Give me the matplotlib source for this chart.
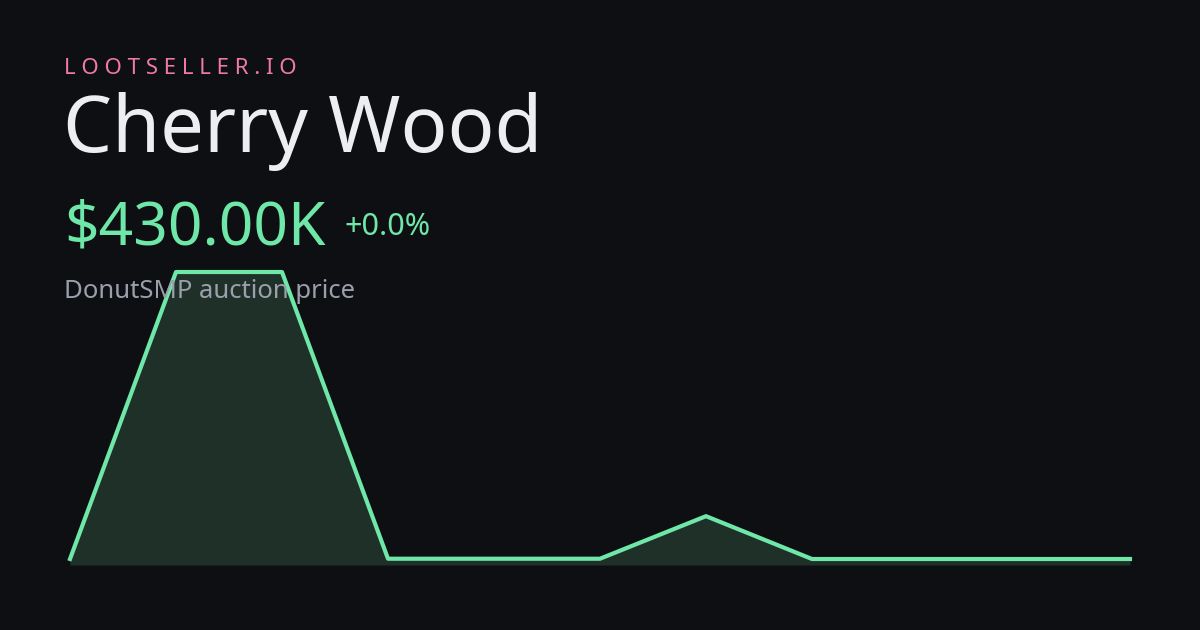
import matplotlib
matplotlib.use("Agg")
import matplotlib.pyplot as plt

values = [0.43, 21.0, 21.0, 0.45, 0.45, 0.45, 3.5, 0.43, 0.43, 0.43, 0.43]  # millions
idx = list(range(len(values)))

BG = "#0d0f12"
GREEN = "#6ee7a8"
fig = plt.figure(figsize=(12, 6.3), dpi=100, facecolor=BG)
plt.rcParams['font.family'] = ['Noto Sans', 'DejaVu Sans']

ax = fig.add_axes([70/1200, (630-565)/630, 1060/1200, (565-272)/630])
ax.set_facecolor("none")
ax.fill_between(idx, values, 0, color="#1f3029", linewidth=0, clip_on=False)
ax.plot(idx, values, color=GREEN, linewidth=3, clip_on=False, solid_joinstyle="round")
ax.set_xlim(0, len(values)-1)
ax.set_ylim(0, max(values))
ax.axis("off")

def T(x, y, s, size, color, **kw):
    fig.text(x/1200, 1 - y/630, s, fontsize=size, color=color, va="baseline", ha="left", **kw)

T(64, 74, "L O O T S E L L E R . I O", 16, "#f07aa6")
T(63, 152, "Cherry Wood", 56, "#eceef2")
T(64, 245, "$430.00K", 43.5, GREEN)
T(344, 235, "+0.0%", 22, GREEN)
T(64, 298, "DonutSMP auction price", 18.5, "#9a9fab")

fig.savefig("out.png", facecolor=BG, dpi=100)
